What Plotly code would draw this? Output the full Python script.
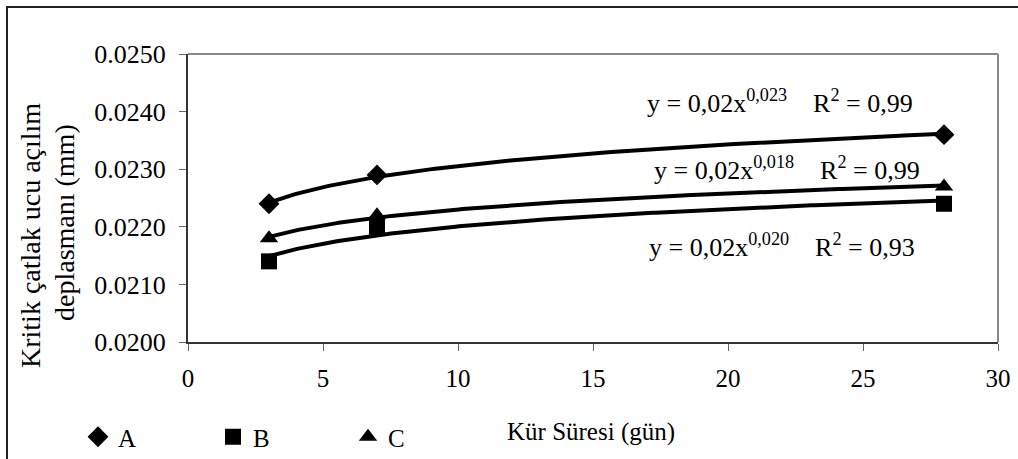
import numpy as np
import plotly.graph_objects as go

days = [3, 7, 28]
series_names = ["A", "B", "C"]
values_A = [0.0224, 0.0229, 0.0236]
values_B = [0.0214, 0.0220, 0.0224]
values_C = [0.0218, 0.0222, 0.0227]
symbols = ["diamond", "square", "triangle-up"]
eq_labels = [
    "y = 0,02x<sup>0,023</sup>    R<sup>2</sup> = 0,99",
    "y = 0,02x<sup>0,020</sup>    R<sup>2</sup> = 0,93",
    "y = 0,02x<sup>0,018</sup>    R<sup>2</sup> = 0,99",
]
y_ticks = [0.020, 0.021, 0.022, 0.023, 0.024, 0.025]
y_tick_text = ["0.0200", "0.0210", "0.0220", "0.0230", "0.0240", "0.0250"]
x_ticks = [0, 5, 10, 15, 20, 25, 30]
x_title = "Kür Süresi (gün)"
y_title_lines = ["Kritik çatlak ucu açılım", "deplasmanı (mm)"]

FONT = "Liberation Serif, Times New Roman, serif"
FS = 25
L, R, T, B = 188, 20, 54, 117
W, H = 1018.0 - L - R, 459.0 - T - B


def px_x(p):
    return (p - L) / W


def px_y(p):
    return (459 - B - p) / H


fig = go.Figure()

all_vals = [values_A, values_B, values_C]
xd = np.array(days, dtype=float)
xs = np.linspace(min(days), max(days), 200)
# power trendlines fitted from the data
for vals in all_vals:
    b, lna = np.polyfit(np.log(xd), np.log(np.array(vals)), 1)
    fig.add_trace(go.Scatter(x=xs, y=np.exp(lna) * xs ** b, mode="lines",
                             line=dict(color="black", width=4),
                             showlegend=False, hoverinfo="skip"))

for name, vals, sym in zip(series_names, all_vals, symbols):
    fig.add_trace(go.Scatter(x=days, y=vals, mode="markers", name=name,
                             marker=dict(symbol=sym, color="black", size=16,
                                         line=dict(width=0))))

# equation annotations (A, B, C) positioned in pixels
ann_pos = [(780, 102), (782, 245), (787, 168)]
for txt, (px, py) in zip(eq_labels, ann_pos):
    fig.add_annotation(x=px_x(px), y=px_y(py), xref="paper", yref="paper",
                       xanchor="center", yanchor="middle",
                       text=txt, showarrow=False,
                       font=dict(family=FONT, size=26, color="black"))

# axis titles as text annotations
fig.add_annotation(x=px_x(591), y=px_y(432), xref="paper", yref="paper",
                   xanchor="center", yanchor="middle",
                   text=x_title, showarrow=False,
                   font=dict(family=FONT, size=FS, color="black"))
for txt, (px, py) in zip(y_title_lines, [(30, 236), (64, 223)]):
    fig.add_annotation(x=px_x(px), y=px_y(py), xref="paper", yref="paper",
                       xanchor="center", yanchor="middle",
                       text=txt, showarrow=False, textangle=-90,
                       font=dict(family=FONT, size=28, color="black"))

fig.update_layout(
    width=1018, height=459,
    margin=dict(l=L, r=R, t=T, b=B, autoexpand=False),
    paper_bgcolor="white", plot_bgcolor="white",
    font=dict(family=FONT, size=FS, color="black"),
    showlegend=True,
    legend=dict(orientation="h", x=px_x(78), y=px_y(414), xanchor="left", yanchor="top",
                entrywidth=90, font=dict(family=FONT, size=FS),
                itemwidth=30, bgcolor="rgba(0,0,0,0)", tracegroupgap=0),
    xaxis=dict(range=[0, 30], tickvals=x_ticks, showgrid=False, zeroline=False,
               automargin=False,
               showline=True, linecolor="#333", linewidth=2,
               ticks="outside", ticklen=7, tickcolor="#666", tickwidth=1,
               ticklabelstandoff=6,
               tickfont=dict(family=FONT, size=FS)),
    yaxis=dict(range=[0.020, 0.025], tickvals=y_ticks, ticktext=y_tick_text,
               showgrid=False, zeroline=False, automargin=False,
               showline=True, linecolor="#333", linewidth=2,
               ticks="outside", ticklen=7, tickcolor="#666", tickwidth=1,
               ticklabelstandoff=8,
               tickfont=dict(family=FONT, size=26)),
)

# plot area top and right borders (gray)
fig.add_shape(type="line", xref="x domain", yref="y domain", x0=0, x1=1, y0=1, y1=1,
              line=dict(color="#888", width=2))
fig.add_shape(type="line", xref="x domain", yref="y domain", x0=1, x1=1, y0=0, y1=1,
              line=dict(color="#888", width=2))
# outer frame: top and left lines
fig.add_shape(type="line", xref="paper", yref="paper",
              x0=px_x(6), x1=px_x(1020), y0=px_y(7), y1=px_y(7),
              line=dict(color="#222", width=2))
fig.add_shape(type="line", xref="paper", yref="paper",
              x0=px_x(7), x1=px_x(7), y0=px_y(7), y1=px_y(462),
              line=dict(color="#222", width=2))

fig.write_html("out.html", config={"displayModeBar": False},
               post_script="document.body.style.margin='0';")
